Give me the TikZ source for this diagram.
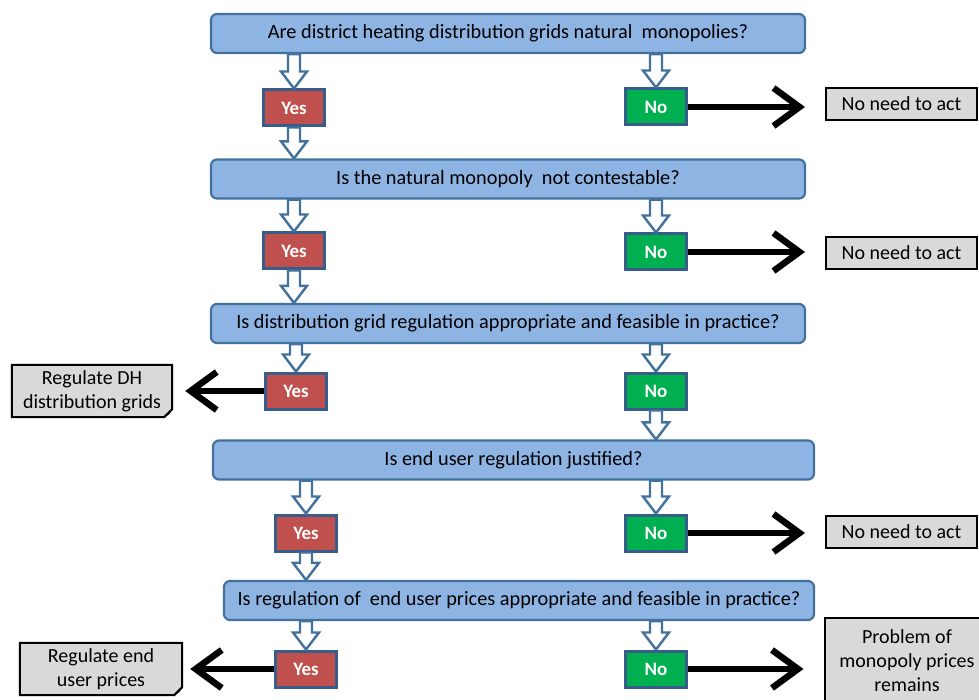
\documentclass[tikz,border=0pt]{standalone}
\usepackage{fontspec}
\setmainfont{Carlito}
\usetikzlibrary{positioning,calc,arrows.meta}

\definecolor{qfill}{HTML}{8EB4E3}
\definecolor{qline}{HTML}{41719C}
\definecolor{boxline}{HTML}{385D8A}
\definecolor{yesfill}{HTML}{C0504D}
\definecolor{nofill}{HTML}{00B050}
\definecolor{endfill}{HTML}{D9D9D9}

% hollow block arrow from point #1 down to tip #2
\newcommand{\hollowdown}[2]{%
  \draw[hollow] ($(#1)+(-6,0)$) -- ($(#2)+(-6,-17)$) -- ($(#2)+(-13,-17)$) -- (#2)
    -- ($(#2)+(13,-17)$) -- ($(#2)+(6,-17)$) -- ($(#1)+(6,0)$) -- cycle;}

% gray box with folded corner
\newcommand{\docbox}[1]{%
  \draw[endline, fill=endfill] (#1.north west) -- (#1.north east) -- ($(#1.south east)+(0,-8)$)
    -- ($(#1.south east)+(-8,0)$) -- (#1.south west) -- cycle;
  \fill[black] ($(#1.south east)+(0,-8)$) -- ($(#1.south east)+(-8,0)$) -- ($(#1.south east)+(-3,-3)$) -- cycle;}

\begin{document}
\begin{tikzpicture}[x=1pt,y=-1pt,
  question/.style={draw=qline, fill=qfill, line width=2.2pt, rounded corners=6pt,
    minimum height=39pt, inner sep=0pt, font=\fontsize{20.3}{23}\selectfont},
  answer/.style={draw=boxline, line width=3pt, minimum width=61pt, minimum height=36pt,
    inner sep=0pt, text=white, font=\fontsize{19}{22}\selectfont\bfseries},
  yesbox/.style={answer, fill=yesfill},
  nobox/.style={answer, fill=nofill},
  endline/.style={draw=black, line width=2pt},
  endbox/.style={endline, fill=endfill, inner sep=0pt, align=center,
    font=\fontsize{20}{24}\selectfont},
  hollow/.style={draw=qline, fill=white, line width=2.4pt, line join=miter},
  act/.style={line width=6.5pt, -{Straight Barb[length=26pt,width=38pt]}}
]
\useasboundingbox (0,0) rectangle (979,700);

% questions
\node[question, minimum width=594pt] (q1) at (508,33.5) {Are district heating distribution grids natural\ \ monopolies?};
\node[question, minimum width=594pt] (q2) at (508,179) {Is the natural monopoly\ \ not contestable?};
\node[question, minimum width=594pt] (q3) at (508,323.5) {Is distribution grid regulation appropriate and feasible in practice?};
\node[question, minimum width=601pt] (q4) at (513.5,460) {Is end user regulation justified?};
\node[question, minimum width=590pt] (q5) at (519,600.5) {Is regulation of\ \ end user prices appropriate and feasible in practice?};

% answers
\node[yesbox] (y1) at (294,108) {Yes};
\node[nobox] (n1) at (656,107) {No};
\node[yesbox] (y2) at (294,251) {Yes};
\node[nobox] (n2) at (656,252) {No};
\node[yesbox] (y3) at (296,391) {Yes};
\node[nobox] (n3) at (656,391) {No};
\node[yesbox] (y4) at (306,533) {Yes};
\node[nobox] (n4) at (656,533) {No};
\node[yesbox] (y5) at (306,669) {Yes};
\node[nobox] (n5) at (656,669) {No};

% outcomes
\node[endbox, minimum width=151pt, minimum height=32pt] (e1) at (901.5,104) {No need to act};
\node[endbox, minimum width=151pt, minimum height=32pt] (e2) at (901.5,253) {No need to act};
\node[endbox, minimum width=151pt, minimum height=32pt] (e4) at (901.5,532) {No need to act};
\node[endbox, minimum width=165pt, minimum height=86pt] (e5) at (907,661) {Problem of\\monopoly prices\\remains};
\node[minimum width=160pt, minimum height=52pt, inner sep=0pt] (r3) at (92,391) {};
\docbox{r3}
\node[align=center, font=\fontsize{20}{24}\selectfont] at (r3) {Regulate DH\\distribution grids};
\node[minimum width=162pt, minimum height=52pt, inner sep=0pt] (r5) at (101,669) {};
\docbox{r5}
\node[align=center, font=\fontsize{20}{24}\selectfont] at (r5) {Regulate end\\user prices};

% hollow arrows
\hollowdown{q1.south -| y1}{y1.north}
\hollowdown{q1.south -| n1}{n1.north}
\hollowdown{y1.south}{q2.north -| y1}
\hollowdown{q2.south -| y2}{y2.north}
\hollowdown{q2.south -| n2}{n2.north}
\hollowdown{y2.south}{q3.north -| y2}
\hollowdown{q3.south -| y3}{y3.north}
\hollowdown{q3.south -| n3}{n3.north}
\hollowdown{n3.south}{q4.north -| n3}
\hollowdown{q4.south -| y4}{y4.north}
\hollowdown{q4.south -| n4}{n4.north}
\hollowdown{y4.south}{q5.north -| y4}
\hollowdown{q5.south -| y5}{y5.north}
\hollowdown{q5.south -| n5}{n5.north}

% black arrows
\draw[act, shorten >=20pt] (n1.east) -- (n1.east -| e1.west);
\draw[act, shorten >=20pt] (n2.east) -- (n2.east -| e2.west);
\draw[act, shorten >=20pt] (n4.east) -- (n4.east -| e4.west);
\draw[act, shorten >=20pt] (n5.east) -- (n5.east -| e5.west);
\draw[act, shorten >=13pt] (y3.west) -- (y3.west -| r3.east);
\draw[act, shorten >=8pt] (y5.west) -- (y5.west -| r5.east);
\end{tikzpicture}
\end{document}
